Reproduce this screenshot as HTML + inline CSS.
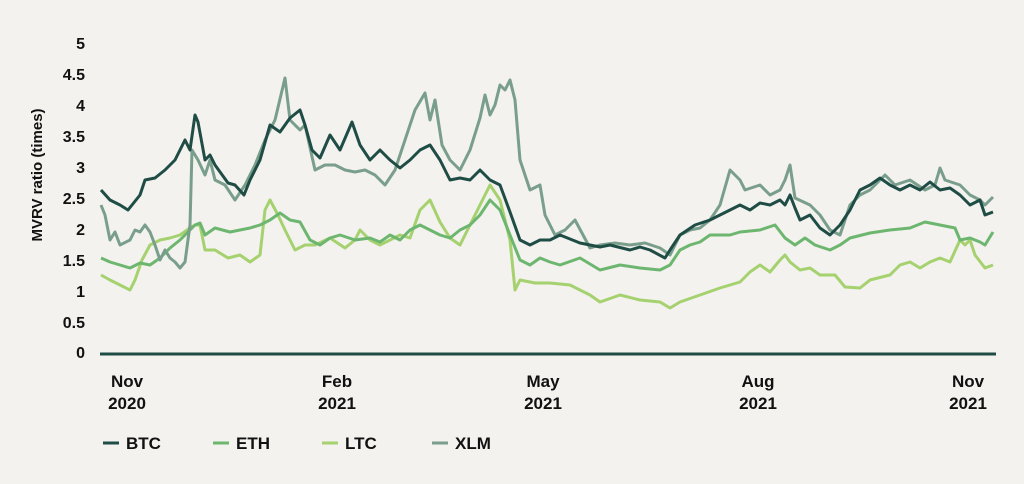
<!DOCTYPE html>
<html><head><style>
body{margin:0;background:#f3f2ee;}
svg{display:block;font-family:"Liberation Sans",sans-serif;font-weight:bold;}
</style></head><body>
<svg width="1024" height="484" viewBox="0 0 1024 484">
<rect width="1024" height="484" fill="#f3f2ee"/>
<g font-size="16" fill="#111" text-anchor="end">
<text x="85" y="49">5</text><text x="85" y="80">4.5</text><text x="85" y="111">4</text><text x="85" y="142">3.5</text><text x="85" y="173">3</text><text x="85" y="204">2.5</text><text x="85" y="235">2</text><text x="85" y="266">1.5</text><text x="85" y="297">1</text><text x="85" y="328">0.5</text><text x="85" y="358">0</text>
</g>
<text transform="translate(42,175) rotate(-90)" font-size="15" fill="#111" text-anchor="middle">MVRV ratio (times)</text>
<g fill="none" stroke-width="3" stroke-linejoin="round">
<polyline stroke="#a5d16f" points="101,275 110,280 120,285 130,290 135,280 142,260 150,245 160,240 170,238 180,235 190,228 195,225 200,225 205,250 215,250 228,258 240,255 250,262 260,255 265,210 270,200 278,215 285,230 295,250 305,245 315,245 330,238 345,248 355,240 360,230 370,240 380,245 390,240 400,235 410,238 420,210 430,200 440,222 450,238 460,245 470,225 480,205 490,185 500,200 510,240 515,290 520,280 535,283 550,283 570,285 590,295 600,302 620,295 640,300 660,302 670,308 680,302 700,295 720,288 740,282 750,272 760,265 770,272 780,260 785,255 790,262 800,270 810,268 820,275 835,275 845,287 860,288 870,280 890,275 900,265 910,262 920,268 930,262 940,258 950,262 960,240 965,245 970,240 975,255 985,268 993,265"/>
<polyline stroke="#6db66f" points="101,258 110,262 120,265 130,268 140,263 150,265 160,258 170,248 180,240 190,230 195,225 200,223 205,235 215,228 230,232 240,230 250,228 260,225 270,220 280,213 290,220 300,222 310,240 320,245 330,238 340,235 355,240 370,238 380,242 390,235 400,240 410,230 420,225 440,235 450,238 460,230 470,225 480,215 490,200 500,210 510,235 520,260 530,265 540,258 550,262 560,265 580,258 600,270 620,265 640,268 660,270 670,265 680,250 690,245 700,242 710,235 730,235 740,232 760,230 775,225 785,238 795,245 805,238 815,245 830,250 840,245 850,238 870,233 890,230 910,228 925,222 940,225 955,228 960,240 970,238 980,242 985,245 993,232"/>
<polyline stroke="#7a9e8c" points="101,205 105,215 110,240 115,232 120,245 130,240 135,230 140,232 145,225 150,232 155,245 160,260 165,250 170,258 175,262 180,268 185,262 190,225 192,150 198,160 205,175 210,160 215,180 225,185 235,200 245,185 255,165 265,140 275,120 285,78 290,120 300,130 305,125 315,170 325,165 335,165 345,170 355,172 365,170 375,175 385,185 395,170 405,140 415,110 425,93 430,120 435,100 442,145 450,160 460,170 470,150 480,118 485,95 490,115 495,105 500,85 505,90 510,80 515,100 520,160 530,190 540,185 545,215 555,235 565,230 575,220 590,248 600,245 615,243 630,245 645,243 660,248 670,255 680,235 690,230 700,228 710,220 720,205 730,170 740,180 745,190 760,185 770,195 780,190 785,180 790,165 795,198 810,205 820,215 830,230 840,235 850,205 860,195 870,190 885,175 895,185 910,180 925,190 935,185 940,168 945,180 960,185 970,195 980,200 985,205 993,197"/>
<polyline stroke="#1f4d45" points="101,190 110,200 120,205 128,210 140,195 145,180 155,178 165,170 175,160 180,150 185,140 190,150 195,115 198,122 205,160 210,155 215,165 228,183 235,185 244,195 250,180 260,160 270,125 280,132 290,118 300,110 305,125 312,150 320,158 330,135 340,150 352,122 360,145 370,160 380,150 390,160 400,168 410,160 420,150 430,145 440,160 450,180 460,178 470,180 480,170 490,180 500,185 510,212 520,240 530,245 540,240 550,240 560,235 580,243 590,245 600,247 610,245 630,250 640,247 650,250 665,258 670,250 680,235 695,225 710,220 720,215 740,205 750,210 760,203 770,205 780,200 785,205 790,195 795,208 800,220 810,215 820,228 830,235 840,225 850,210 860,190 870,185 880,178 890,185 900,190 910,185 920,190 930,182 940,190 950,188 960,195 970,205 980,200 985,215 993,212"/>
</g>
<line x1="100" y1="354" x2="996" y2="354" stroke="#1f4d45" stroke-width="3"/>
<g font-size="17" fill="#111" text-anchor="middle">
<text x="127" y="387">Nov</text><text x="127" y="409">2020</text>
<text x="337" y="387">Feb</text><text x="337" y="409">2021</text>
<text x="543" y="387">May</text><text x="543" y="409">2021</text>
<text x="758" y="387">Aug</text><text x="758" y="409">2021</text>
<text x="968" y="387">Nov</text><text x="968" y="409">2021</text>
</g>
<g stroke-width="3">
<line x1="103" y1="443" x2="119" y2="443" stroke="#1f4d45"/>
<line x1="213" y1="443" x2="229" y2="443" stroke="#6db66f"/>
<line x1="322" y1="443" x2="338" y2="443" stroke="#a5d16f"/>
<line x1="432" y1="443" x2="448" y2="443" stroke="#7a9e8c"/>
</g>
<g font-size="17" fill="#111">
<text x="126" y="449">BTC</text><text x="236" y="449">ETH</text><text x="345" y="449">LTC</text><text x="455" y="449">XLM</text>
</g>
</svg>
</body></html>
